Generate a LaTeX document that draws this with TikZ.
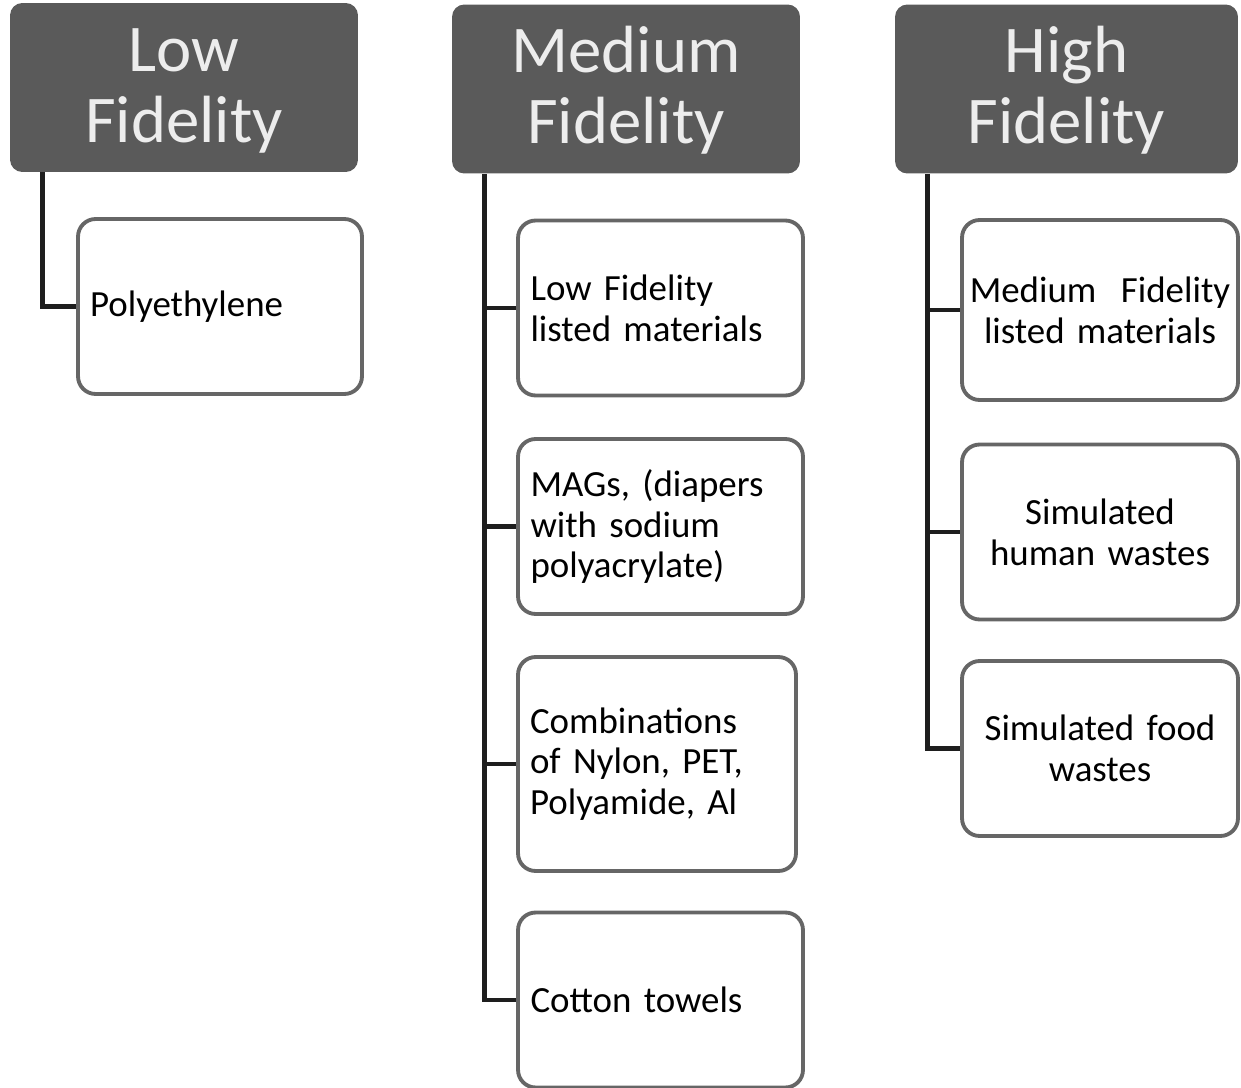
\documentclass[tikz,border=0pt]{standalone}
\usepackage{fontspec}
\setmainfont{Carlito}
\usetikzlibrary{positioning}
\definecolor{headgray}{HTML}{5A5A5A}
\definecolor{rimgray}{HTML}{666666}
\definecolor{linegray}{HTML}{1E1E1E}
\tikzset{
  headbox/.style={
    rectangle, rounded corners=7pt,
    minimum width=6.96cm, minimum height=3.38cm,
    text width=6.5cm, align=center,
    font=\fontsize{38}{40.5}\selectfont,
    execute at begin node={\rule{0pt}{28pt}},
    fill=headgray, text=white!93!black, draw=none
  },
  itembox/.style={
    rectangle, rounded corners=10pt, line width=2.2pt,
    minimum width=5.7cm, minimum height=3.5cm,
    text width=5.2cm, inner sep=0.24cm, align=left,
    font=\fontsize{21}{23.2}\selectfont,
    draw=rimgray, fill=white, text=black
  },
  itemcenter/.style={
    itembox, align=center,
    text width=5.3cm, inner xsep=0.11cm, minimum width=5.52cm
  },
  trunk/.style={line width=2.6pt, draw=linegray},
}

\begin{document}
\begin{tikzpicture}[x=0.02cm, y=-0.02cm]
  \useasboundingbox (0,0) rectangle (1241,1088);
  % headers
  \node[headbox] (low) at (184,87.5) {Low\\Fidelity};
  \node[headbox] (med) at (626,89) {Medium\\Fidelity};
  \node[headbox, minimum width=6.86cm] (high) at (1066.5,89) {High\\Fidelity};
  % low fidelity
  \node[itembox, minimum width=5.68cm] (poly) at (220,306.5) {Polyethylene};
  % medium fidelity
  \node[itembox] (lfl) at (660.5,308) {Low Fidelity\\listed materials};
  \node[itembox] (mags) at (660.5,526.5) {MAGs, (diapers\\with sodium\\polyacrylate)};
  \node[itembox, minimum width=5.56cm, text width=5.08cm, minimum height=4.28cm] (comb) at (657,764)
    {Combinations\\of Nylon, PET,\\Polyamide, Al};
  \node[itembox] (cotton) at (660.5,1000) {Cotton towels};
  % high fidelity
  \node[itemcenter, minimum height=3.6cm] (mfl) at (1100,310) {Medium~ Fidelity\\listed materials};
  \node[itemcenter] (shw) at (1100,532) {Simulated\\human wastes};
  \node[itemcenter] (sfw) at (1100,748.5) {Simulated food\\wastes};
  % connectors
  \coordinate (lowroot) at ([xshift=0.66cm]low.south west);
  \coordinate (medroot) at ([xshift=0.66cm]med.south west);
  \coordinate (highroot) at ([xshift=0.66cm]high.south west);
  \draw[trunk] (lowroot) |- (poly.west);
  \draw[trunk] (medroot) |- (cotton.west);
  \foreach \c in {lfl,mags,comb}
    \draw[trunk] (medroot |- \c.west) -- (\c.west);
  \draw[trunk] (highroot) |- (sfw.west);
  \foreach \c in {mfl,shw}
    \draw[trunk] (highroot |- \c.west) -- (\c.west);
\end{tikzpicture}
\end{document}
